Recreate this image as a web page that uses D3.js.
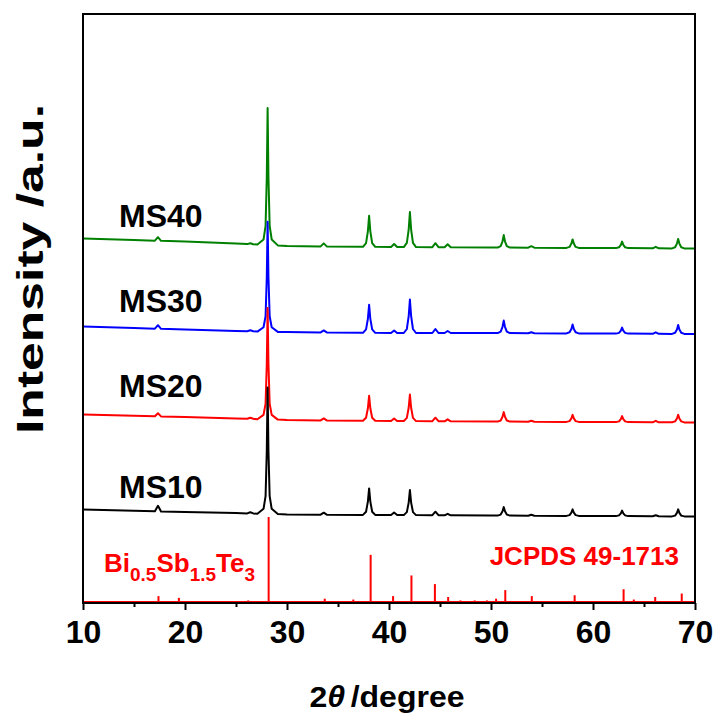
<!DOCTYPE html>
<html>
<head>
<meta charset="utf-8">
<script src="https://cdn.jsdelivr.net/npm/d3@7"></script>
<style>
  body { margin: 0; background: #fff; }
  text { font-family: "Liberation Sans", Arial, sans-serif; font-weight: bold; }
</style>
</head>
<body>
<svg id="chart" width="715" height="713"></svg>
<script>
// x axis ticks (2theta, degree)
const majorTicks = [10, 20, 30, 40, 50, 60, 70];
const minorTicks = [15, 25, 35, 45, 55, 65];

const seriesNames = ["MS10", "MS20", "MS30", "MS40"];
// vertical stacking offsets (a.u.)
const seriesOffsets = [0, 950, 1830, 2710];

// [2theta, intensity a.u.]
const ms10 = [
  [10,935],[15,922],[17.05,917],[17.35,972],[17.65,916],[20,910],[25,899],
  [26.1,896],[26.4,908],[26.7,896],
  [27.1,892],[27.7,942],[27.9,1068],[28.02,1524],[28.1,2156],[28.18,1524],[28.3,1068],[28.5,942],[29.1,889],
  [30,885],[33.3,883],[33.6,903],[33.9,883],
  [37.45,881],[37.75,913],[37.93,1014],[38.05,1146],[38.17,1014],[38.35,913],[38.65,881],
  [40.2,880],[40.5,905],[40.8,880],
  [41.45,879],[41.75,909],[41.93,1004],[42.05,1129],[42.17,1004],[42.35,909],[42.65,879],
  [44.25,878],[44.55,913],[44.85,878],[45.45,877],[45.75,892],[46.05,877],[50,875],
  [50.65,874],[50.95,884],[51.13,917],[51.25,959],[51.37,917],[51.55,884],[51.85,874],
  [53.65,873],[53.95,883],[54.25,873],
  [57.4,871],[57.7,879],[57.88,904],[58.0,936],[58.12,904],[58.3,879],[58.6,871],[60,870],
  [62.25,869],[62.55,876],[62.73,897],[62.85,924],[62.97,897],[63.15,876],[63.45,869],
  [65.85,867],[66.15,877],[66.45,867],
  [67.75,866],[68.05,874],[68.23,901],[68.35,936],[68.47,901],[68.65,874],[68.95,866],[70,865]
];
const ms20 = [
  [10,935],[15,922],[17.05,917],[17.35,947],[17.65,916],[20,910],[25,896],
  [26.1,892],[26.4,902],[26.7,892],
  [27.1,887],[27.7,931],[27.9,1042],[28.02,1444],[28.1,2001],[28.18,1444],[28.3,1042],[28.5,931],[29.1,884],
  [30,880],[33.3,876],[33.6,896],[33.9,876],
  [37.45,872],[37.75,902],[37.93,997],[38.05,1122],[38.17,997],[38.35,902],[38.65,872],
  [40.2,870],[40.5,895],[40.8,870],
  [41.45,869],[41.75,901],[41.93,1002],[42.05,1134],[42.17,1002],[42.35,901],[42.65,869],
  [44.25,868],[44.55,903],[44.85,868],[45.45,867],[45.75,887],[46.05,867],[50,865],
  [50.65,864],[50.95,875],[51.13,912],[51.25,959],[51.37,912],[51.55,875],[51.85,864],
  [53.65,863],[53.95,873],[54.25,863],
  [57.4,861],[57.7,869],[57.88,896],[58.0,931],[58.12,896],[58.3,869],[58.6,861],[60,860],
  [62.25,859],[62.55,866],[62.73,889],[62.85,919],[62.97,889],[63.15,866],[63.45,859],
  [65.85,857],[66.15,872],[66.45,857],
  [67.75,857],[68.05,866],[68.23,895],[68.35,932],[68.47,895],[68.65,866],[68.95,856],[70,855]
];
const ms30 = [
  [10,935],[15,920],[17.05,913],[17.35,948],[17.65,912],[20,905],[25,891],
  [26.1,887],[26.4,897],[26.7,887],
  [27.1,884],[27.7,927],[27.9,1037],[28.02,1433],[28.1,1983],[28.18,1433],[28.3,1037],[28.5,927],[29.1,881],
  [30,880],[33.3,876],[33.6,896],[33.9,876],
  [37.45,872],[37.75,906],[37.93,1012],[38.05,1152],[38.17,1012],[38.35,906],[38.65,872],
  [40.2,870],[40.5,895],[40.8,870],
  [41.45,870],[41.75,910],[41.93,1038],[42.05,1205],[42.17,1038],[42.35,910],[42.65,870],
  [44.25,870],[44.55,910],[44.85,870],[45.45,870],[45.75,890],[46.05,870],[50,870],
  [50.65,869],[50.95,884],[51.13,932],[51.25,994],[51.37,932],[51.55,884],[51.85,869],
  [53.65,868],[53.95,878],[54.25,868],
  [57.4,866],[57.7,877],[57.88,911],[58.0,956],[58.12,911],[58.3,877],[58.6,866],[60,865],
  [62.25,864],[62.55,871],[62.73,894],[62.85,924],[62.97,894],[63.15,871],[63.45,864],
  [65.85,862],[66.15,877],[66.45,862],
  [67.75,861],[68.05,872],[68.23,906],[68.35,951],[68.47,906],[68.65,872],[68.95,861],[70,860]
];
const ms40 = [
  [10,935],[15,920],[17.05,913],[17.35,948],[17.65,912],[20,905],[25,884],
  [26.1,879],[26.4,888],[26.7,877],
  [27.1,874],[27.7,925],[27.9,1062],[28.02,1555],[28.1,2240],[28.18,1555],[28.3,1062],[28.5,925],[29.1,866],
  [30,860],[33.3,856],[33.6,886],[33.9,856],
  [37.45,852],[37.75,889],[37.93,1007],[38.05,1162],[38.17,1007],[38.35,889],[38.65,852],
  [40.2,850],[40.5,880],[40.8,850],
  [41.45,849],[41.75,891],[41.93,1024],[42.05,1199],[42.17,1024],[42.35,891],[42.65,849],
  [44.25,848],[44.55,888],[44.85,848],[45.45,847],[45.75,877],[46.05,847],[50,845],
  [50.65,844],[50.95,859],[51.13,907],[51.25,969],[51.37,907],[51.55,859],[51.85,844],
  [53.65,843],[53.95,858],[54.25,843],
  [57.4,841],[57.7,851],[57.88,884],[58.0,926],[58.12,884],[58.3,851],[58.6,841],[60,840],
  [62.25,839],[62.55,847],[62.73,872],[62.85,904],[62.97,872],[63.15,847],[63.45,839],
  [65.85,837],[66.15,852],[66.45,837],
  [67.75,836],[68.05,847],[68.23,884],[68.35,931],[68.47,884],[68.65,847],[68.95,836],[70,835]
];

// JCPDS 49-1713 reference lines (2theta, relative intensity %)
const refPos = [14.4, 17.4, 19.4, 23.0, 26.2, 28.2, 33.7, 36.5, 38.2, 40.4, 42.2, 44.5, 45.8, 47.0,
                48.4, 49.6, 50.5, 51.4, 54.0, 57.1, 58.2, 59.9, 63.0, 64.0, 66.1, 67.7, 68.7];
const refInt = [2, 8, 6, 2, 3, 100, 5, 4, 56, 8, 32, 22, 7, 3,
                3, 3, 5, 15, 8, 2, 9, 2, 16, 4, 7, 2, 11];

const seriesData = [ms10, ms20, ms30, ms40];
const colors = ["#000000", "#ff0000", "#0000ff", "#008000"];

const svg = d3.select("#chart");
const plotL = 83, plotR = 695, plotT = 14, plotB = 603;

const x = d3.scaleLinear().domain([10, 70]).range([plotL, plotR]);
const y = d3.scaleLinear().domain([0, 5890]).range([plotB, plotT]);
const yRef = d3.scaleLinear().domain([0, 100]).range([plotB, 517]);

// reference sticks
svg.append("line")
  .attr("x1", plotL).attr("x2", plotR)
  .attr("y1", plotB - 1.5).attr("y2", plotB - 1.5)
  .attr("stroke", "#ff0000").attr("stroke-width", 1);
svg.append("g").selectAll("line")
  .data(refPos.map((p, i) => ({pos: p, val: refInt[i]})))
  .join("line")
    .attr("x1", d => x(d.pos)).attr("x2", d => x(d.pos))
    .attr("y1", yRef(0)).attr("y2", d => yRef(d.val))
    .attr("stroke", "#ff0000").attr("stroke-width", 2);

// patterns, MS40 drawn first so MS10 ends up on top
const line = d3.line()
  .x(d => x(d[0]))
  .y(d => y(d[1]));
const order = [3, 2, 1, 0];
svg.append("g").selectAll("path")
  .data(order)
  .join("path")
    .attr("d", i => line(seriesData[i].map(p => [p[0], p[1] + seriesOffsets[i]])))
    .attr("fill", "none")
    .attr("stroke", i => colors[i])
    .attr("stroke-width", 2)
    .attr("stroke-linejoin", "round");

// series labels
const labelY = [498, 397, 312, 227];
svg.append("g").selectAll("text")
  .data(seriesNames)
  .join("text")
    .attr("x", 119)
    .attr("y", (d, i) => labelY[i])
    .attr("font-size", 32)
    .attr("fill", "#000")
    .text(d => d);

// reference labels
const phase = svg.append("text")
  .attr("x", 104).attr("y", 572)
  .attr("font-size", 26).attr("fill", "#ff0000");
[["Bi", false], ["0.5", true], ["Sb", false], ["1.5", true], ["Te", false], ["3", true]].forEach(([t, sub]) => {
  phase.append("tspan")
    .attr("font-size", sub ? 19 : 26)
    .attr("baseline-shift", sub ? "-9" : "0")
    .text(t);
});
svg.append("text")
  .attr("x", 679).attr("y", 565)
  .attr("text-anchor", "end")
  .attr("font-size", 26).attr("fill", "#ff0000")
  .text("JCPDS 49-1713");

// axes
const xAxis = svg.append("g")
  .attr("transform", `translate(0,${plotB})`)
  .call(d3.axisBottom(x).tickValues(majorTicks).tickSize(7).tickPadding(10.5).tickFormat(d3.format("d")));
xAxis.select(".domain").remove();
xAxis.selectAll("line").attr("stroke", "#000").attr("stroke-width", 2);
xAxis.selectAll("text").attr("font-size", 32).attr("fill", "#000")
  .style("font-family", "'Liberation Sans', Arial, sans-serif").style("font-weight", "bold");

const xMinor = svg.append("g")
  .attr("transform", `translate(0,${plotB})`)
  .call(d3.axisBottom(x).tickValues(minorTicks).tickSize(4).tickFormat(""));
xMinor.select(".domain").remove();
xMinor.selectAll("line").attr("stroke", "#000").attr("stroke-width", 2);

svg.append("rect")
  .attr("x", plotL).attr("y", plotT)
  .attr("width", plotR - plotL).attr("height", plotB - plotT)
  .attr("fill", "none").attr("stroke", "#000").attr("stroke-width", 2);

// axis titles
const xt = svg.append("text")
  .attr("x", 387).attr("y", 707)
  .attr("text-anchor", "middle").attr("font-size", 29).attr("fill", "#000")
  .attr("textLength", 155).attr("lengthAdjust", "spacingAndGlyphs");
xt.append("tspan").text("2");
xt.append("tspan").attr("font-style", "italic").text("\u03b8");
xt.append("tspan").attr("dx", 5).text("/degree");

svg.append("text")
  .attr("transform", "translate(43,269) rotate(-90)")
  .attr("text-anchor", "middle").attr("font-size", 36).attr("fill", "#000")
  .attr("textLength", 330).attr("lengthAdjust", "spacingAndGlyphs")
  .text("Intensity /a.u.");
</script>
</body>
</html>
